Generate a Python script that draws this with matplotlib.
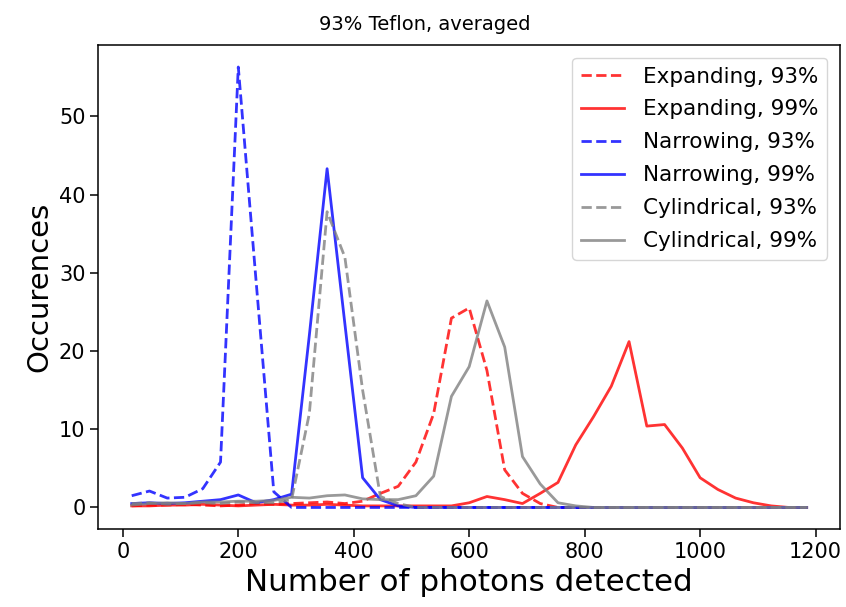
import numpy as np
import matplotlib
matplotlib.use("Agg")
import matplotlib.pyplot as plt

# histogram bins: 39 bins between 0 and 1200 photons
bin_edges = np.linspace(0, 1200, 40)
photons = (bin_edges[:-1] + bin_edges[1:]) / 2

expanding_93 = [0.2, 0.3, 0.3, 0.4, 0.3, 0.2, 0.3, 0.5, 0.4, 0.5,
                0.6, 0.7, 0.5, 0.8, 1.8, 2.7, 5.8, 12.0, 24.2, 25.5,
                17.5, 4.8, 1.8, 0.5, 0, 0, 0, 0, 0, 0,
                0, 0, 0, 0, 0, 0, 0, 0, 0]
expanding_99 = [0.2, 0.2, 0.3, 0.3, 0.4, 0.3, 0.2, 0.3, 0.4, 0.3,
                0.3, 0.4, 0.3, 0.2, 0.2, 0.2, 0.2, 0.2, 0.2, 0.6,
                1.4, 1.0, 0.5, 1.8, 3.2, 8.0, 11.6, 15.5, 21.2, 10.4,
                10.6, 7.6, 3.8, 2.3, 1.2, 0.6, 0.2, 0, 0]
narrowing_93 = [1.5, 2.1, 1.2, 1.3, 2.4, 5.8, 56.3, 29.0, 2.0, 0,
                0, 0, 0, 0, 0, 0, 0, 0, 0, 0,
                0, 0, 0, 0, 0, 0, 0, 0, 0, 0,
                0, 0, 0, 0, 0, 0, 0, 0, 0]
narrowing_99 = [0.5, 0.6, 0.5, 0.6, 0.8, 1.0, 1.6, 0.6, 1.0, 1.7,
                22.0, 43.3, 23.5, 3.8, 1.0, 0.2, 0, 0, 0, 0,
                0, 0, 0, 0, 0, 0, 0, 0, 0, 0,
                0, 0, 0, 0, 0, 0, 0, 0, 0]
cylindrical_93 = [0.5, 0.6, 0.4, 0.5, 0.6, 0.5, 0.7, 0.6, 0.6, 1.0,
                  12.0, 37.8, 32.0, 15.0, 1.4, 0.5, 0, 0, 0, 0,
                  0, 0, 0, 0, 0, 0, 0, 0, 0, 0,
                  0, 0, 0, 0, 0, 0, 0, 0, 0]
cylindrical_99 = [0.3, 0.5, 0.6, 0.5, 0.7, 0.7, 0.8, 0.8, 0.9, 1.3,
                  1.2, 1.5, 1.6, 1.1, 1.0, 1.0, 1.5, 4.0, 14.2, 18.0,
                  26.4, 20.5, 6.5, 3.0, 0.6, 0.2, 0, 0, 0, 0,
                  0, 0, 0, 0, 0, 0, 0, 0, 0]

fig = plt.figure(figsize=(8.46, 6.07), dpi=100)
ax = fig.add_axes([0.1158, 0.1277, 0.8776, 0.7982])

lw = 2.0
ax.plot(photons, expanding_93, "--", color="red", alpha=0.8, lw=lw, label="Expanding, 93%")
ax.plot(photons, expanding_99, "-", color="red", alpha=0.8, lw=lw, label="Expanding, 99%")
ax.plot(photons, narrowing_93, "--", color="blue", alpha=0.8, lw=lw, label="Narrowing, 93%")
ax.plot(photons, narrowing_99, "-", color="blue", alpha=0.8, lw=lw, label="Narrowing, 99%")
ax.plot(photons, cylindrical_93, "--", color="gray", alpha=0.8, lw=lw, label="Cylindrical, 93%")
ax.plot(photons, cylindrical_99, "-", color="gray", alpha=0.8, lw=lw, label="Cylindrical, 99%")

ax.set_title("93% Teflon, averaged", fontsize=14, x=0.44, pad=11)
ax.set_xlabel("Number of photons detected", fontsize=22.3)
ax.set_ylabel("Occurences", fontsize=21)
ax.tick_params(labelsize=15, length=5.5, width=1.1)
for sp in ax.spines.values():
    sp.set_linewidth(1.1)
ax.set_xticks([0, 200, 400, 600, 800, 1000, 1200])
ax.legend(loc="upper right", fontsize=15.5, labelspacing=0.6, handletextpad=0.9,
          borderaxespad=0.6)

fig.savefig("out.png", dpi=100)
